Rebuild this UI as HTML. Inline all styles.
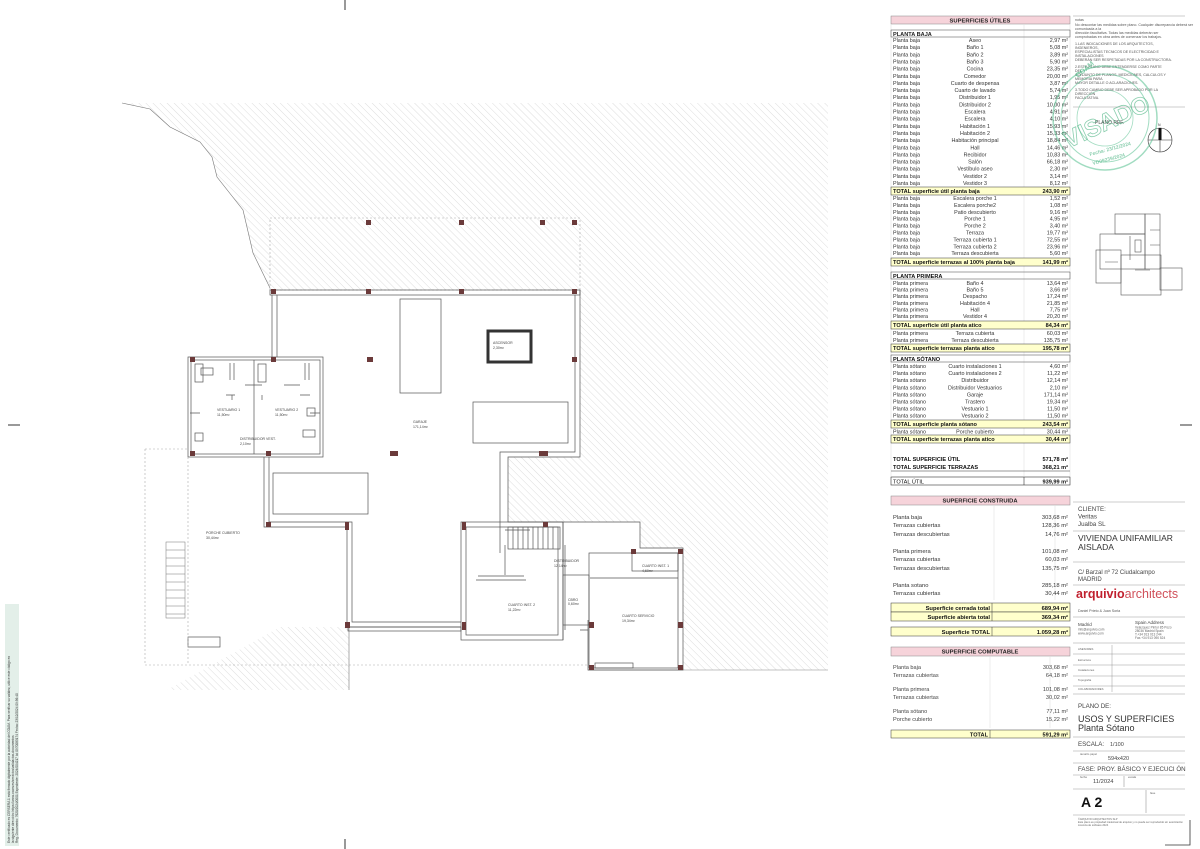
<!DOCTYPE html>
<html><head><meta charset="utf-8"><style>
html,body{margin:0;padding:0;background:#fff;}
svg{display:block;font-family:"Liberation Sans",sans-serif;}
</style></head><body>
<svg width="1200" height="849" viewBox="0 0 1200 849" xmlns="http://www.w3.org/2000/svg">
<defs>
<pattern id="h" width="5" height="5" patternUnits="userSpaceOnUse" patternTransform="rotate(-45)">
<line x1="0" y1="0" x2="0" y2="5" stroke="#d4d4d4" stroke-width="0.8"/>
</pattern>
</defs>
<rect width="1200" height="849" fill="#fff"/>
<line x1="345" y1="0" x2="345" y2="10" stroke="#333"/>
<line x1="345" y1="839" x2="345" y2="849" stroke="#333"/>
<line x1="8" y1="425" x2="20" y2="425" stroke="#333"/>
<line x1="1180" y1="425" x2="1192" y2="425" stroke="#333"/>
<polyline points="1165,845 1190,845 1190,820" fill="none" stroke="#333" stroke-width="0.8"/>
<rect x="5" y="604" width="14" height="242" fill="#e3efe9"/>
<g transform="translate(10,845) rotate(-90)" font-size="3.2" fill="#333">
<text x="2" y="0">Este certificado es CERSERA 1 está firmado digitalmente por la autoridad del COAM. Para verificar su validez, utilice este código en</text>
<text x="2" y="4">la siguiente dirección: https://www.coam.es/servicios/validacion-documentos</text>
<text x="2" y="8">Reg. Documento: 7620/2024/0001   Expediente: 2024/004217   Id: 0970083174          Fecha: 23/12/2024 09:56:40</text>
</g>

<polygon points="122,103 828,103 828,670 683,670 683,548 640,548 640,522 508,522 508,457 580,457 580,290 270,290 253,253 243,210 217,177 212,157 200,142 170,127 150,109" fill="url(#h)"/>
<polygon points="280,627 349,627 349,690 167,690" fill="url(#h)"/>
<polyline points="122,103 150,109 170,127 200,142 212,157 217,177 243,210 253,253 270,288" fill="none" stroke="#777" stroke-width="0.6"/>
<line x1="588" y1="670" x2="828" y2="670" stroke="#888" stroke-width="0.6"/>
<rect x="270" y="218" width="310" height="72" fill="none" stroke="#aaa" stroke-width="0.6" stroke-dasharray="2,2"/>
<g fill="none" stroke="#555" stroke-width="0.7">
<rect x="270" y="290" width="310" height="5"/>
<path d="M272,295 V357 M277,295 V357"/>
<path d="M575,295 V452 H500 V553 M580,290 V457 H508 V522 H640 V548 H683 V670 H588 V620"/>
<rect x="188" y="357" width="135" height="100"/>
<rect x="191" y="360" width="129" height="94"/>
<path d="M254,360 V454 M232,395 V400 M262,395 V400 M190,413 H200 M310,413 H320 M245,385 H262 M284,385 H300 M226,395 H235 M300,395 H310"/>
<path d="M230,363 V380 M234,363 V380 M305,363 V380 M309,363 V380"/>
<rect x="195" y="364" width="8" height="18"/><rect x="258" y="364" width="8" height="18"/>
<rect x="201" y="368" width="12" height="7"/><rect x="303" y="430" width="12" height="7"/>
<rect x="195" y="433" width="8" height="8"/><rect x="307" y="408" width="8" height="8"/>
<path d="M264,457 V527 H347 V627 H461 M269,457 V522 H352 V622 H461"/>
<rect x="400" y="299" width="41" height="94"/>
<rect x="473" y="402" width="95" height="41"/>
<rect x="273" y="473" width="95" height="41"/>
<rect x="461" y="522" width="102" height="118"/>
<rect x="466" y="527" width="92" height="108"/>
<path d="M563,522 V640 M565,545 V630 M505,545 V575 M505,530 H530 M580,630 H588"/>
<rect x="508" y="527" width="52" height="22"/>
<path d="M513,527 V549 M518,527 V549 M523,527 V549 M528,527 V549 M533,527 V549 M538,527 V549 M543,527 V549 M548,527 V549 M553,527 V549"/>
<rect x="589" y="553" width="89" height="115"/>
<rect x="632" y="553" width="46" height="18"/>
<rect x="563" y="575" width="26" height="50"/>
<path d="M478,576 H524 M476,580 H526 M590,578 H678"/>
<rect x="595" y="663" width="38" height="5"/>
<rect x="348" y="627" width="113" height="4"/>
<rect x="188" y="637" width="32" height="10"/>
</g>
<path d="M145,449 V665 H588 M145,449 H188 M188,457 V665" fill="none" stroke="#aaa" stroke-width="0.6" stroke-dasharray="2,2"/>
<line x1="349" y1="627" x2="349" y2="690" stroke="#777" stroke-width="0.6"/>
<g fill="none" stroke="#777" stroke-width="0.5">
<rect x="166" y="542" width="19" height="76"/>
<path d="M166,550 H185 M166,558 H185 M166,566 H185 M166,574 H185 M166,582 H185 M166,590 H185 M166,598 H185 M166,606 H185 M166,614 H185"/>
</g>
<rect x="488" y="331" width="43" height="31" fill="none" stroke="#333" stroke-width="3"/>
<g fill="#6b3a3a">
<rect x="366" y="220" width="5" height="5"/><rect x="459" y="220" width="5" height="5"/><rect x="540" y="220" width="5" height="5"/><rect x="572" y="220" width="5" height="5"/>
<rect x="271" y="289" width="5" height="5"/><rect x="366" y="289" width="5" height="5"/><rect x="459" y="289" width="5" height="5"/><rect x="572" y="289" width="5" height="5"/>
<rect x="190" y="357" width="5" height="5"/><rect x="271" y="357" width="5" height="5"/><rect x="367" y="357" width="6" height="5"/><rect x="572" y="357" width="5" height="5"/>
<rect x="390" y="451" width="6" height="5"/><rect x="539" y="451" width="6" height="5"/>
<rect x="190" y="451" width="5" height="5"/><rect x="266" y="451" width="5" height="5"/>
<rect x="393" y="451" width="5" height="5"/><rect x="543" y="451" width="5" height="5"/>
<rect x="266" y="522" width="5" height="5"/><rect x="345" y="522" width="4" height="8"/>
<rect x="462" y="522" width="4" height="8"/><rect x="543" y="522" width="5" height="5"/>
<rect x="345" y="622" width="5" height="6"/><rect x="462" y="622" width="4" height="8"/>
<rect x="631" y="549" width="5" height="5"/><rect x="678" y="549" width="5" height="5"/>
<rect x="589" y="622" width="5" height="6"/><rect x="678" y="622" width="5" height="6"/>
<rect x="589" y="665" width="5" height="5"/><rect x="678" y="665" width="5" height="5"/>
</g>
<g font-size="3.5" fill="#444">
<text x="413" y="423">GARAJE</text><text x="413" y="428">171,14m²</text>
<text x="493" y="344">ASCENSOR</text><text x="493" y="349">2,30m²</text>
<text x="217" y="411">VESTUARIO 1</text><text x="217" y="416">11,50m²</text>
<text x="275" y="411">VESTUARIO 2</text><text x="275" y="416">11,50m²</text>
<text x="240" y="440">DISTRIBUIDOR VEST.</text><text x="240" y="445">2,10m²</text>
<text x="206" y="534">PORCHE CUBIERTO</text><text x="206" y="539">30,44m²</text>
<text x="554" y="562">DISTRIBUIDOR</text><text x="554" y="567">12,14m²</text>
<text x="642" y="567">CUARTO INST. 1</text><text x="642" y="572">4,60m²</text>
<text x="508" y="606">CUARTO INST. 2</text><text x="508" y="611">11,22m²</text>
<text x="568" y="601">CBRO</text><text x="568" y="605">0,60m²</text>
<text x="622" y="617">CUARTO SERVICIO</text><text x="622" y="622">19,34m²</text>
</g>

<!-- TABLE 1 -->
<g font-size="5.6" fill="#222">
<rect x="891" y="16" width="179" height="8" fill="#f6d3da" stroke="#888" stroke-width="0.5"/>
<text x="980" y="22.3" text-anchor="middle" font-weight="bold" font-size="5.8">SUPERFICIES ÚTILES</text>
<line x1="1024" y1="24" x2="1024" y2="476" stroke="#ddd" stroke-width="0.5"/>
<line x1="1070" y1="24" x2="1070" y2="476" stroke="#ddd" stroke-width="0.5"/>
<line x1="891" y1="24" x2="891" y2="476" stroke="#ddd" stroke-width="0.5"/>
<rect x="891" y="30" width="179" height="7" fill="none" stroke="#444" stroke-width="0.5"/>
<text x="893" y="35.8" font-weight="bold">PLANTA BAJA</text>
</g>
<g font-size="5.4" fill="#333">
<text x="893" y="42">Planta baja</text><text x="975" y="42" text-anchor="middle">Aseo</text><text x="1068" y="42" text-anchor="end">2,97 m²</text>
<text x="893" y="49.15">Planta baja</text><text x="975" y="49.15" text-anchor="middle">Baño 1</text><text x="1068" y="49.15" text-anchor="end">5,08 m²</text>
<text x="893" y="56.3">Planta baja</text><text x="975" y="56.3" text-anchor="middle">Baño 2</text><text x="1068" y="56.3" text-anchor="end">3,89 m²</text>
<text x="893" y="63.45">Planta baja</text><text x="975" y="63.45" text-anchor="middle">Baño 3</text><text x="1068" y="63.45" text-anchor="end">5,90 m²</text>
<text x="893" y="70.6">Planta baja</text><text x="975" y="70.6" text-anchor="middle">Cocina</text><text x="1068" y="70.6" text-anchor="end">23,35 m²</text>
<text x="893" y="77.75">Planta baja</text><text x="975" y="77.75" text-anchor="middle">Comedor</text><text x="1068" y="77.75" text-anchor="end">20,00 m²</text>
<text x="893" y="84.9">Planta baja</text><text x="975" y="84.9" text-anchor="middle">Cuarto de despensa</text><text x="1068" y="84.9" text-anchor="end">3,87 m²</text>
<text x="893" y="92.05">Planta baja</text><text x="975" y="92.05" text-anchor="middle">Cuarto de lavado</text><text x="1068" y="92.05" text-anchor="end">5,74 m²</text>
<text x="893" y="99.2">Planta baja</text><text x="975" y="99.2" text-anchor="middle">Distribuidor 1</text><text x="1068" y="99.2" text-anchor="end">1,95 m²</text>
<text x="893" y="106.35">Planta baja</text><text x="975" y="106.35" text-anchor="middle">Distribuidor 2</text><text x="1068" y="106.35" text-anchor="end">10,00 m²</text>
<text x="893" y="113.5">Planta baja</text><text x="975" y="113.5" text-anchor="middle">Escalera</text><text x="1068" y="113.5" text-anchor="end">4,91 m²</text>
<text x="893" y="120.65">Planta baja</text><text x="975" y="120.65" text-anchor="middle">Escalera</text><text x="1068" y="120.65" text-anchor="end">4,10 m²</text>
<text x="893" y="127.8">Planta baja</text><text x="975" y="127.8" text-anchor="middle">Habitación 1</text><text x="1068" y="127.8" text-anchor="end">15,93 m²</text>
<text x="893" y="134.95">Planta baja</text><text x="975" y="134.95" text-anchor="middle">Habitación 2</text><text x="1068" y="134.95" text-anchor="end">15,33 m²</text>
<text x="893" y="142.1">Planta baja</text><text x="975" y="142.1" text-anchor="middle">Habitación principal</text><text x="1068" y="142.1" text-anchor="end">18,84 m²</text>
<text x="893" y="149.25">Planta baja</text><text x="975" y="149.25" text-anchor="middle">Hall</text><text x="1068" y="149.25" text-anchor="end">14,46 m²</text>
<text x="893" y="156.4">Planta baja</text><text x="975" y="156.4" text-anchor="middle">Recibidor</text><text x="1068" y="156.4" text-anchor="end">10,83 m²</text>
<text x="893" y="163.55">Planta baja</text><text x="975" y="163.55" text-anchor="middle">Salón</text><text x="1068" y="163.55" text-anchor="end">66,18 m²</text>
<text x="893" y="170.7">Planta baja</text><text x="975" y="170.7" text-anchor="middle">Vestíbulo aseo</text><text x="1068" y="170.7" text-anchor="end">2,30 m²</text>
<text x="893" y="177.85">Planta baja</text><text x="975" y="177.85" text-anchor="middle">Vestidor 2</text><text x="1068" y="177.85" text-anchor="end">3,14 m²</text>
<text x="893" y="185">Planta baja</text><text x="975" y="185" text-anchor="middle">Vestidor 3</text><text x="1068" y="185" text-anchor="end">8,12 m²</text>
</g>
<g font-size="5.6" fill="#111" font-weight="bold">
<rect x="891" y="187" width="179" height="8" fill="#ffffcc" stroke="#333" stroke-width="0.5"/>
<text x="893" y="193.2">TOTAL superficie útil planta baja</text><text x="1068" y="193.2" text-anchor="end">243,90 m²</text>
</g>
<g font-size="5.4" fill="#333">
<text x="893" y="200">Planta baja</text><text x="975" y="200" text-anchor="middle">Escalera porche 1</text><text x="1068" y="200" text-anchor="end">1,52 m²</text>
<text x="893" y="206.9">Planta baja</text><text x="975" y="206.9" text-anchor="middle">Escalera porche2</text><text x="1068" y="206.9" text-anchor="end">1,08 m²</text>
<text x="893" y="213.8">Planta baja</text><text x="975" y="213.8" text-anchor="middle">Patio descubierto</text><text x="1068" y="213.8" text-anchor="end">9,16 m²</text>
<text x="893" y="220.7">Planta baja</text><text x="975" y="220.7" text-anchor="middle">Porche 1</text><text x="1068" y="220.7" text-anchor="end">4,95 m²</text>
<text x="893" y="227.6">Planta baja</text><text x="975" y="227.6" text-anchor="middle">Porche 2</text><text x="1068" y="227.6" text-anchor="end">3,40 m²</text>
<text x="893" y="234.5">Planta baja</text><text x="975" y="234.5" text-anchor="middle">Terraza</text><text x="1068" y="234.5" text-anchor="end">19,77 m²</text>
<text x="893" y="241.4">Planta baja</text><text x="975" y="241.4" text-anchor="middle">Terraza cubierta 1</text><text x="1068" y="241.4" text-anchor="end">72,55 m²</text>
<text x="893" y="248.3">Planta baja</text><text x="975" y="248.3" text-anchor="middle">Terraza cubierta 2</text><text x="1068" y="248.3" text-anchor="end">23,96 m²</text>
<text x="893" y="255.2">Planta baja</text><text x="975" y="255.2" text-anchor="middle">Terraza descubierta</text><text x="1068" y="255.2" text-anchor="end">5,60 m²</text>
</g>
<g font-size="5.6" fill="#111" font-weight="bold">
<rect x="891" y="258" width="179" height="8" fill="#ffffcc" stroke="#333" stroke-width="0.5"/>
<text x="893" y="264.2">TOTAL superficie terrazas al 100% planta baja</text><text x="1068" y="264.2" text-anchor="end">141,99 m²</text>
<rect x="891" y="272" width="179" height="7" fill="none" stroke="#444" stroke-width="0.5"/>
<text x="893" y="277.8">PLANTA PRIMERA</text>
</g>
<g font-size="5.4" fill="#333">
<text x="893" y="285">Planta primera</text><text x="975" y="285" text-anchor="middle">Baño 4</text><text x="1068" y="285" text-anchor="end">13,64 m²</text>
<text x="893" y="291.6">Planta primera</text><text x="975" y="291.6" text-anchor="middle">Baño 5</text><text x="1068" y="291.6" text-anchor="end">3,66 m²</text>
<text x="893" y="298.2">Planta primera</text><text x="975" y="298.2" text-anchor="middle">Despacho</text><text x="1068" y="298.2" text-anchor="end">17,24 m²</text>
<text x="893" y="304.8">Planta primera</text><text x="975" y="304.8" text-anchor="middle">Habitación 4</text><text x="1068" y="304.8" text-anchor="end">21,85 m²</text>
<text x="893" y="311.4">Planta primera</text><text x="975" y="311.4" text-anchor="middle">Hall</text><text x="1068" y="311.4" text-anchor="end">7,75 m²</text>
<text x="893" y="318">Planta primera</text><text x="975" y="318" text-anchor="middle">Vestidor 4</text><text x="1068" y="318" text-anchor="end">20,20 m²</text>
</g>
<g font-size="5.6" fill="#111" font-weight="bold">
<rect x="891" y="321" width="179" height="8" fill="#ffffcc" stroke="#333" stroke-width="0.5"/>
<text x="893" y="327.2">TOTAL superficie útil planta atico</text><text x="1068" y="327.2" text-anchor="end">84,34 m²</text>
</g>
<g font-size="5.4" fill="#333">
<text x="893" y="335">Planta primera</text><text x="975" y="335" text-anchor="middle">Terraza cubierta</text><text x="1068" y="335" text-anchor="end">60,03 m²</text>
<text x="893" y="342">Planta primera</text><text x="975" y="342" text-anchor="middle">Terraza descubierta</text><text x="1068" y="342" text-anchor="end">135,75 m²</text>
</g>
<g font-size="5.6" fill="#111" font-weight="bold">
<rect x="891" y="344" width="179" height="8" fill="#ffffcc" stroke="#333" stroke-width="0.5"/>
<text x="893" y="350.2">TOTAL superficie terrazas planta atico</text><text x="1068" y="350.2" text-anchor="end">195,78 m²</text>
<rect x="891" y="355" width="179" height="7" fill="none" stroke="#444" stroke-width="0.5"/>
<text x="893" y="360.8">PLANTA SÓTANO</text>
</g>
<g font-size="5.4" fill="#333">
<text x="893" y="368">Planta sótano</text><text x="975" y="368" text-anchor="middle">Cuarto instalaciones 1</text><text x="1068" y="368" text-anchor="end">4,60 m²</text>
<text x="893" y="375.1">Planta sótano</text><text x="975" y="375.1" text-anchor="middle">Cuarto instalaciones 2</text><text x="1068" y="375.1" text-anchor="end">11,22 m²</text>
<text x="893" y="382.2">Planta sótano</text><text x="975" y="382.2" text-anchor="middle">Distribuidor</text><text x="1068" y="382.2" text-anchor="end">12,14 m²</text>
<text x="893" y="389.3">Planta sótano</text><text x="975" y="389.3" text-anchor="middle">Distribuidor Vestuarios</text><text x="1068" y="389.3" text-anchor="end">2,10 m²</text>
<text x="893" y="396.4">Planta sótano</text><text x="975" y="396.4" text-anchor="middle">Garaje</text><text x="1068" y="396.4" text-anchor="end">171,14 m²</text>
<text x="893" y="403.5">Planta sótano</text><text x="975" y="403.5" text-anchor="middle">Trastero</text><text x="1068" y="403.5" text-anchor="end">19,34 m²</text>
<text x="893" y="410.6">Planta sótano</text><text x="975" y="410.6" text-anchor="middle">Vestuario 1</text><text x="1068" y="410.6" text-anchor="end">11,50 m²</text>
<text x="893" y="417.7">Planta sótano</text><text x="975" y="417.7" text-anchor="middle">Vestuario 2</text><text x="1068" y="417.7" text-anchor="end">11,50 m²</text>
</g>
<g font-size="5.6" fill="#111" font-weight="bold">
<rect x="891" y="420" width="179" height="8" fill="#ffffcc" stroke="#333" stroke-width="0.5"/>
<text x="893" y="426.2">TOTAL superficie planta sótano</text><text x="1068" y="426.2" text-anchor="end">243,54 m²</text>
</g>
<g font-size="5.4" fill="#333">
<text x="893" y="433.3">Planta sótano</text><text x="975" y="433.3" text-anchor="middle">Porche cubierto</text><text x="1068" y="433.3" text-anchor="end">30,44 m²</text>
</g>
<g font-size="5.6" fill="#111" font-weight="bold">
<rect x="891" y="435" width="179" height="8" fill="#ffffcc" stroke="#333" stroke-width="0.5"/>
<text x="893" y="441.2">TOTAL superficie terrazas planta atico</text><text x="1068" y="441.2" text-anchor="end">30,44 m²</text>
<text x="893" y="461">TOTAL SUPERFICIE ÚTIL</text><text x="1068" y="461" text-anchor="end">571,78 m²</text>
<text x="893" y="469">TOTAL SUPERFICIE TERRAZAS</text><text x="1068" y="469" text-anchor="end">368,21 m²</text>
</g>
<line x1="891" y1="471" x2="1070" y2="471" stroke="#333" stroke-width="0.6"/>
<rect x="891" y="477" width="179" height="8" fill="none" stroke="#333" stroke-width="0.6"/>
<line x1="1024" y1="477" x2="1024" y2="485" stroke="#333" stroke-width="0.6"/>
<text x="893" y="483.3" font-size="5.6" fill="#111">TOTAL ÚTIL</text>
<text x="1068" y="483.3" font-size="5.6" fill="#111" font-weight="bold" text-anchor="end">939,99 m²</text>

<!-- TABLE 2 -->
<rect x="891" y="496" width="179" height="9" fill="#f6d3da" stroke="#888" stroke-width="0.5"/>
<text x="980" y="502.5" text-anchor="middle" font-weight="bold" font-size="5.8" fill="#222">SUPERFICIE CONSTRUIDA</text>
<line x1="994" y1="505" x2="994" y2="600" stroke="#ddd" stroke-width="0.5"/>
<line x1="1055" y1="505" x2="1055" y2="600" stroke="#ddd" stroke-width="0.5"/>
<g font-size="5.8" fill="#333">
<text x="893" y="519">Planta baja</text><text x="1068" y="519" text-anchor="end">303,68 m²</text>
<text x="893" y="527">Terrazas cubiertas</text><text x="1068" y="527" text-anchor="end">128,36 m²</text>
<text x="893" y="536">Terrazas descubiertas</text><text x="1068" y="536" text-anchor="end">14,76 m²</text>
<text x="893" y="553">Planta primera</text><text x="1068" y="553" text-anchor="end">101,08 m²</text>
<text x="893" y="561">Terrazas cubiertas</text><text x="1068" y="561" text-anchor="end">60,03 m²</text>
<text x="893" y="570">Terrazas descubiertas</text><text x="1068" y="570" text-anchor="end">135,75 m²</text>
<text x="893" y="587">Planta sotano</text><text x="1068" y="587" text-anchor="end">285,18 m²</text>
<text x="893" y="595">Terrazas cubiertas</text><text x="1068" y="595" text-anchor="end">30,44 m²</text>
</g>
<g font-size="5.8" fill="#111" font-weight="bold">
<rect x="891" y="603" width="179" height="9" fill="#ffffcc" stroke="#333" stroke-width="0.5"/>
<rect x="891" y="612" width="179" height="9" fill="#ffffcc" stroke="#333" stroke-width="0.5"/>
<line x1="992" y1="603" x2="992" y2="621" stroke="#333" stroke-width="0.5"/>
<text x="990" y="609.8" text-anchor="end">Superficie cerrada total</text><text x="1068" y="609.8" text-anchor="end">689,94 m²</text>
<text x="990" y="618.8" text-anchor="end">Superficie abierta total</text><text x="1068" y="618.8" text-anchor="end">369,34 m²</text>
<rect x="891" y="627" width="179" height="9" fill="#ffffcc" stroke="#333" stroke-width="0.5"/>
<line x1="992" y1="627" x2="992" y2="636" stroke="#333" stroke-width="0.5"/>
<text x="990" y="633.8" text-anchor="end">Superficie TOTAL</text><text x="1068" y="633.8" text-anchor="end">1.059,28 m²</text>
</g>

<!-- TABLE 3 -->
<rect x="891" y="647" width="179" height="9" fill="#f6d3da" stroke="#888" stroke-width="0.5"/>
<text x="980" y="653.5" text-anchor="middle" font-weight="bold" font-size="5.8" fill="#222">SUPERFICIE COMPUTABLE</text>
<line x1="990" y1="656" x2="990" y2="728" stroke="#ddd" stroke-width="0.5"/>
<line x1="1050" y1="656" x2="1050" y2="728" stroke="#ddd" stroke-width="0.5"/>
<g font-size="5.6" fill="#444">
<text x="893" y="669">Planta baja</text><text x="1068" y="669" text-anchor="end">303,68 m²</text>
<text x="893" y="677">Terrazas cubiertas</text><text x="1068" y="677" text-anchor="end">64,18 m²</text>
<text x="893" y="691">Planta primera</text><text x="1068" y="691" text-anchor="end">101,08 m²</text>
<text x="893" y="699">Terrazas cubiertas</text><text x="1068" y="699" text-anchor="end">30,02 m²</text>
<text x="893" y="713">Planta sótano</text><text x="1068" y="713" text-anchor="end">77,11 m²</text>
<text x="893" y="721">Porche cubierto</text><text x="1068" y="721" text-anchor="end">15,22 m²</text>
</g>
<rect x="891" y="730" width="179" height="8" fill="#ffffcc" stroke="#333" stroke-width="0.5"/>
<line x1="990" y1="730" x2="990" y2="738" stroke="#333" stroke-width="0.5"/>
<text x="988" y="736.3" text-anchor="end" font-size="5.6" font-weight="bold" fill="#111">TOTAL</text>
<text x="1068" y="736.3" text-anchor="end" font-size="5.6" font-weight="bold" fill="#111">591,29 m²</text>

<!-- RIGHT COLUMN -->
<line x1="1073" y1="16" x2="1185" y2="16" stroke="#999" stroke-width="0.6"/>
<g font-size="3.6" fill="#555">
<text x="1075" y="21">notas</text>
<text x="1075" y="26">No descontar las medidas sobre plano. Cualquier discrepancia deberá ser</text>
<text x="1075" y="30">comunicada a la</text>
<text x="1075" y="34">dirección facultativa. Todas las medidas deberán ser</text>
<text x="1075" y="38">comprobadas en obra antes de comenzar los trabajos.</text>
<text x="1075" y="45">1.LAS INDICACIONES DE LOS ARQUITECTOS,</text>
<text x="1075" y="49">INGENIEROS,</text>
<text x="1075" y="53">ESPECIALISTAS TECNICOS DE ELECTRICIDAD E</text>
<text x="1075" y="57">INSTALACIONES</text>
<text x="1075" y="61">DEBERÁN SER RESPETADAS POR LA CONSTRUCTORA.</text>
<text x="1075" y="68">2.ESTE PLANO DEBE ENTENDERSE COMO PARTE</text>
<text x="1075" y="72">DEL</text>
<text x="1075" y="76">CONJUNTO DE PLANOS, MEDICIONES, CALCULOS Y</text>
<text x="1075" y="80">MEMORIA PARA</text>
<text x="1075" y="84">MAYOR DETALLE O ACLARACIONES.</text>
<text x="1075" y="91">3.TODO CAMBIO DEBE SER APROBADO POR LA</text>
<text x="1075" y="95">DIRECCIÓN</text>
<text x="1075" y="99">FACULTATIVA.</text>
</g>
<line x1="1073" y1="107" x2="1185" y2="107" stroke="#999" stroke-width="0.6"/>
<text x="1095" y="124" font-size="5" fill="#444">PLANO REF.</text>
<circle cx="1160" cy="140" r="12" fill="none" stroke="#333" stroke-width="0.6"/>
<line x1="1148" y1="140" x2="1172" y2="140" stroke="#333" stroke-width="0.6"/>
<line x1="1160" y1="128" x2="1160" y2="152" stroke="#333" stroke-width="0.6"/>
<rect x="1158.5" y="128" width="3" height="12" fill="#111"/>
<text x="1158" y="126" font-size="3.5" fill="#333">N</text>
<g opacity="0.55" fill="none" stroke="#56c08f">
<circle cx="1105" cy="118" r="52" stroke-width="1.5"/>
<circle cx="1105" cy="118" r="44" stroke-width="1"/>
<circle cx="1105" cy="118" r="28" stroke-width="0.8"/>
</g>
<g opacity="0.6" fill="#3fae7a" font-weight="bold">
<text x="1105" y="130" font-size="24" text-anchor="middle" transform="rotate(-25 1105 118)" fill="none" stroke="#3fae7a" stroke-width="0.8">VISADO</text>
<text x="1078" y="78" font-size="7" transform="rotate(-40 1078 78)">COAM</text>
<text x="1090" y="156" font-size="5" transform="rotate(-15 1090 156)">Fecha: 23/12/2024</text>
<text x="1093" y="165" font-size="5" transform="rotate(-15 1093 165)">VD09239/2024</text>
</g>
<g fill="none" stroke="#555" stroke-width="0.6">
<rect x="1115" y="214" width="30" height="20"/>
<rect x="1145" y="214" width="15" height="55"/>
<rect x="1100" y="234" width="45" height="35"/>
<rect x="1096" y="250" width="25" height="33"/>
<rect x="1121" y="255" width="40" height="40"/>
<rect x="1160" y="268" width="22" height="22"/>
<path d="M1130,236 V260 M1150,230 H1160 M1150,245 H1160 M1105,262 H1118 M1135,270 H1150"/>
<rect x="1135" y="240" width="6" height="12"/>
</g>
<line x1="1073" y1="502" x2="1185" y2="502" stroke="#999" stroke-width="0.6"/>
<g font-size="6.2" fill="#444">
<text x="1078" y="511">CLIENTE:</text>
<text x="1078" y="518.5">Veritas</text>
<text x="1078" y="526">Jualba SL</text>
</g>
<line x1="1073" y1="531" x2="1185" y2="531" stroke="#999" stroke-width="0.6"/>
<text x="1078" y="541" font-size="8.5" fill="#333">VIVIENDA UNIFAMILIAR</text>
<text x="1078" y="550" font-size="8.5" fill="#333">AISLADA</text>
<line x1="1073" y1="562" x2="1185" y2="562" stroke="#999" stroke-width="0.6"/>
<text x="1078" y="574" font-size="6" fill="#444">C/ Barzal nº 72 Ciudalcampo</text>
<text x="1078" y="581" font-size="6" fill="#444">MADRID</text>
<line x1="1073" y1="585" x2="1185" y2="585" stroke="#999" stroke-width="0.6"/>
<text x="1076" y="598" font-size="12.5" fill="#c0202e"><tspan font-weight="bold">arquivio</tspan><tspan fill="#d0505a">architects</tspan></text>
<text x="1078" y="612" font-size="3.6" fill="#555">Daniel Prieto &amp; Juan Soria</text>
<line x1="1073" y1="617" x2="1185" y2="617" stroke="#999" stroke-width="0.6"/>
<g font-size="4.5" fill="#444">
<text x="1078" y="626">Madrid</text><text x="1135" y="624">Spain Address</text>
</g>
<g font-size="3.2" fill="#666">
<text x="1078" y="630.5">info@arquivio.com</text><text x="1078" y="634.5">www.arquivio.com</text>
<text x="1135" y="628.5">Velazquez Pintor 85 Pozo</text><text x="1135" y="632">28036 Madrid Spain</text><text x="1135" y="635.5">T.+34 913 013 244</text><text x="1135" y="639">Fax.+34 913 090 524</text>
</g>
<line x1="1073" y1="643" x2="1185" y2="643" stroke="#999" stroke-width="0.6"/>
<g stroke="#999" stroke-width="0.5">
<line x1="1073" y1="654" x2="1185" y2="654"/><line x1="1073" y1="665" x2="1185" y2="665"/><line x1="1073" y1="676" x2="1185" y2="676"/><line x1="1073" y1="686" x2="1185" y2="686"/>
<line x1="1112" y1="645" x2="1112" y2="692"/>
</g>
<g font-size="2.8" fill="#666">
<text x="1078" y="650">ASESORES</text><text x="1078" y="661">Estructura</text><text x="1078" y="671">Instalaciones</text><text x="1078" y="681">Topografía</text><text x="1078" y="690">COLABORADORES</text>
</g>
<line x1="1073" y1="694" x2="1185" y2="694" stroke="#999" stroke-width="0.6"/>
<text x="1078" y="708" font-size="6.2" fill="#444">PLANO DE:</text>
<text x="1078" y="722" font-size="9" fill="#333">USOS Y SUPERFICIES</text>
<text x="1078" y="731" font-size="9" fill="#333">Planta Sótano</text>
<line x1="1073" y1="737" x2="1185" y2="737" stroke="#999" stroke-width="0.6"/>
<text x="1078" y="746" font-size="6.2" fill="#444">ESCALA:</text><text x="1110" y="746" font-size="5.5" fill="#444">1/100</text>
<line x1="1073" y1="751" x2="1185" y2="751" stroke="#999" stroke-width="0.6"/>
<text x="1080" y="755" font-size="2.8" fill="#666">tamaño papel</text>
<text x="1108" y="760" font-size="5.5" fill="#444">594x420</text>
<line x1="1073" y1="763" x2="1185" y2="763" stroke="#999" stroke-width="0.6"/>
<text x="1078" y="771" font-size="6.2" fill="#444">FASE:  PROY. BÁSICO Y EJECUCI ÓN</text>
<line x1="1073" y1="775" x2="1185" y2="775" stroke="#999" stroke-width="0.6"/>
<text x="1080" y="778" font-size="2.8" fill="#666">fecha</text>
<text x="1093" y="783" font-size="5.8" fill="#444">11/2024</text>
<line x1="1124" y1="776" x2="1124" y2="787" stroke="#999" stroke-width="0.6"/>
<text x="1128" y="778" font-size="2.8" fill="#666">escala</text>
<line x1="1073" y1="789" x2="1185" y2="789" stroke="#999" stroke-width="0.6"/>
<text x="1081" y="807" font-size="14" font-weight="bold" fill="#111">A  2</text>
<line x1="1146" y1="790" x2="1146" y2="813" stroke="#999" stroke-width="0.6"/>
<text x="1150" y="794" font-size="2.8" fill="#666">fase</text>
<line x1="1073" y1="815" x2="1185" y2="815" stroke="#999" stroke-width="0.6"/>
<g font-size="2.6" fill="#666">
<text x="1078" y="820">©ARQUIVIO ARQUITECTOS SLP</text>
<text x="1078" y="823">Este plano es propiedad intelectual de arquivio y no puede ser reproducido sin autorización</text>
<text x="1078" y="826">Licencia de software 2024</text>
</g>
</svg>
</body></html>
